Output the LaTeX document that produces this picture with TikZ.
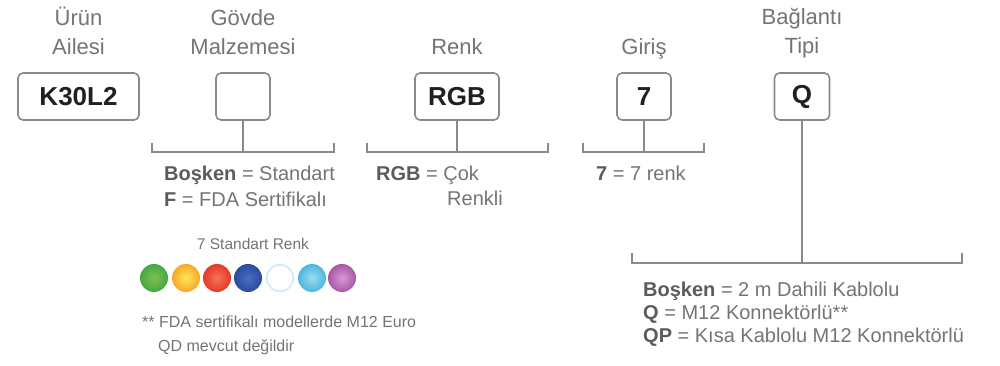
\documentclass[tikz,border=0pt]{standalone}
\usepackage{fontspec}
\setmainfont{Liberation Sans}
\usepackage{tikz}
\usetikzlibrary{positioning}

\definecolor{txtgray}{HTML}{737477}
\definecolor{boldgray}{HTML}{5A5B5E}
\definecolor{linegray}{HTML}{898A8D}
\definecolor{boxtext}{HTML}{231F20}
% ball colours (inner/outer)
\definecolor{in1}{HTML}{7CC252}\definecolor{out1}{HTML}{46A843}
\definecolor{in2}{HTML}{FFE45C}\definecolor{out2}{HTML}{F7A823}
\definecolor{in3}{HTML}{F5735A}\definecolor{out3}{HTML}{E33A2A}
\definecolor{in4}{HTML}{4A6FC0}\definecolor{out4}{HTML}{2C4A9E}
\definecolor{in5}{HTML}{FFFFFF}\definecolor{out5}{HTML}{C9E6F5}
\definecolor{in6}{HTML}{9ADCF2}\definecolor{out6}{HTML}{4EB6DD}
\definecolor{in7}{HTML}{D79AD6}\definecolor{out7}{HTML}{A956A8}

\begin{document}
\begin{tikzpicture}[x=1pt,y=-1pt,
				title/.style={anchor=base,inner sep=0pt,font=\fontsize{22}{26}\selectfont,text=txtgray},
				code box/.style={draw=linegray,line width=1.6pt,rounded corners=5pt,minimum height=47pt,inner sep=0pt,font=\fontsize{26}{30}\selectfont\bfseries,text=boxtext},
				desc/.style={anchor=base west,inner sep=0pt,font=\fontsize{20}{24}\selectfont,text=txtgray},
				note/.style={anchor=base west,inner sep=0pt,font=\fontsize{16}{19}\selectfont,text=txtgray},
				conn/.style={draw=linegray,line width=1.8pt}]
				\useasboundingbox (0,0) rectangle (1000,366);
				
				% titles
				\node[title] (t1a) at (78.5,26) {Ürün};
				\node[title] (t1b) at (78.5,55) {Ailesi};
				\node[title] (t2a) at (243,26) {Gövde};
				\node[title] (t2b) at (243,55) {Malzemesi};
				\node[title] (t3) at (457,55) {Renk};
				\node[title] (t4) at (644,55) {Giriş};
				\node[title] (t5a) at (802,25) {Bağlantı};
				\node[title] (t5b) at (802,54) {Tipi};
				
				% boxes
				\node[code box,minimum width=121pt] (family) at (78.5,96.5) {K30L2};
				\node[code box,minimum width=54pt] (body) at (243,96.5) {};
				\node[code box,minimum width=84pt] (color) at (457,96.5) {RGB};
				\node[code box,minimum width=54pt] (input) at (644,96.5) {7};
				\node[code box,minimum width=55pt] (conntype) at (802,96.5) {Q};
				
				% brackets
				\coordinate (bodyL) at (152,152); \coordinate (bodyR) at (334,152);
				\coordinate (colorL) at (367,152); \coordinate (colorR) at (548,152);
				\coordinate (inputL) at (583,152); \coordinate (inputR) at (704,152);
				\coordinate (connL) at (632,263); \coordinate (connR) at (962,263);
				
				\draw[conn] (body.south) -- (body.south |- bodyL);
				\draw[conn] ([yshift=9pt]bodyL) -- (bodyL) -- (bodyR) -- ([yshift=9pt]bodyR);
				\draw[conn] (color.south) -- (color.south |- colorL);
				\draw[conn] ([yshift=9pt]colorL) -- (colorL) -- (colorR) -- ([yshift=9pt]colorR);
				\draw[conn] (input.south) -- (input.south |- inputL);
				\draw[conn] ([yshift=9pt]inputL) -- (inputL) -- (inputR) -- ([yshift=9pt]inputR);
				\draw[conn] (conntype.south) -- (conntype.south |- connL);
				\draw[conn] ([yshift=10pt]connL) -- (connL) -- (connR) -- ([yshift=10pt]connR);
				
				% options
				\node[desc] (d2a) at (164,180) {\textcolor{boldgray}{\bfseries Boşken} = Standart};
				\node[desc] (d2b) at (164,206) {\textcolor{boldgray}{\bfseries F} = FDA Sertifikalı};
				\node[desc] (d3a) at (376,180) {\textcolor{boldgray}{\bfseries RGB} = Çok};
				\node[desc] (d3b) at (447,205) {Renkli};
				\node[desc] (d4) at (596,180) {\textcolor{boldgray}{\bfseries 7} = 7 renk};
				\node[desc] (d5a) at (643,296) {\textcolor{boldgray}{\bfseries Boşken} = 2 m Dahili Kablolu};
				\node[desc] (d5b) at (643,319) {\textcolor{boldgray}{\bfseries Q} = M12 Konnektörlü**};
				\node[desc] (d5c) at (643,342) {\textcolor{boldgray}{\bfseries QP} = Kısa Kablolu M12 Konnektörlü};
				
				% colours
				\node[title,font=\fontsize{15.5}{18}\selectfont] (rlabel) at (253,249) {7 Standart Renk};
				\foreach \i/\x in {1/154,2/186,3/217,4/248,5/280,6/312,7/342}
					\node[circle,minimum size=28pt,inner sep=0pt,inner color=in\i,outer color=out\i] (c\i) at (\x,278) {};
				\node[circle,minimum size=25pt,inner sep=0pt,fill=white] (c5in) at (280,278) {};
				
				% footnote
				\node[note] (n1) at (142,327) {** FDA sertifikalı modellerde M12 Euro};
				\node[note] (n2) at (158,351) {QD mevcut değildir};
				
\end{tikzpicture}
\end{document}
